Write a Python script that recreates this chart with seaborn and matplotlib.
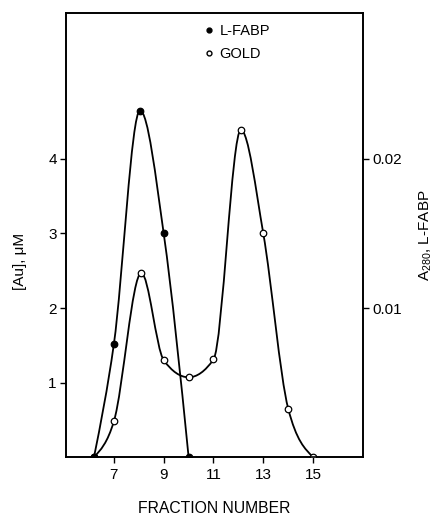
import numpy as np
import pandas as pd
import matplotlib
matplotlib.use("Agg")
import matplotlib.pyplot as plt
import seaborn as sns
from matplotlib.path import Path
from matplotlib.patches import PathPatch
from matplotlib.lines import Line2D

# gold, left axis ([Au], uM)
fraction_gold = [6.2, 7, 8.1, 9, 10, 11, 12.1, 13, 14, 15]
gold_uM = [0, 0.48, 2.47, 1.30, 1.07, 1.31, 4.39, 3.0, 0.65, 0]

# L-FABP, right axis (A280)
fraction_fabp = [6.2, 7, 8.05, 9, 10]
fabp_a280 = [0, 0.0076, 0.02325, 0.015, 0]

x_ticks = [7, 9, 11, 13, 15]
left_ticks = [1, 2, 3, 4]
right_ticks = [0.01, 0.02]


def smooth_path(x, y):
    # monotone cubic curve through the points, as bezier segments
    x = np.asarray(x, float)
    y = np.asarray(y, float)
    h = np.diff(x)
    s = np.diff(y) / h
    m = np.zeros(len(x))
    for i in range(1, len(x) - 1):
        if s[i - 1] * s[i] > 0:
            p = (s[i - 1] * h[i] + s[i] * h[i - 1]) / (h[i - 1] + h[i])
            m[i] = 2 * np.sign(s[i]) * min(abs(s[i - 1]), abs(s[i]), 0.5 * abs(p))
    m[0] = (3 * s[0] - m[1]) / 2
    m[-1] = (3 * s[-1] - m[-2]) / 2
    verts = [(x[0], y[0])]
    codes = [Path.MOVETO]
    for i in range(len(x) - 1):
        d = h[i] / 3
        verts += [(x[i] + d, y[i] + m[i] * d), (x[i + 1] - d, y[i + 1] - m[i + 1] * d), (x[i + 1], y[i + 1])]
        codes += [Path.CURVE4] * 3
    return Path(verts, codes)


sns.set_style("ticks")
plt.rcParams["font.family"] = ["Liberation Sans", "DejaVu Sans"]
plt.rcParams["text.color"] = "black"
plt.rcParams["axes.labelcolor"] = "black"

fig = plt.figure(figsize=(4.42, 5.17), dpi=100)
ax = fig.add_axes([0.149, 0.116, 0.672, 0.859])
ax2 = ax.twinx()

df_gold = pd.DataFrame({"fraction": fraction_gold, "au": gold_uM})
df_fabp = pd.DataFrame({"fraction": fraction_fabp, "a280": fabp_a280})

ax.add_patch(PathPatch(smooth_path(fraction_gold, gold_uM), facecolor="none",
                       edgecolor="black", lw=1.3, transform=ax.transData))
sns.scatterplot(data=df_gold, x="fraction", y="au", ax=ax, marker="o", s=22,
                facecolor="white", edgecolor="black", linewidth=0.9, zorder=3)

ax2.add_patch(PathPatch(smooth_path(fraction_fabp, fabp_a280), facecolor="none",
                        edgecolor="black", lw=1.3, transform=ax2.transData))
sns.scatterplot(data=df_fabp, x="fraction", y="a280", ax=ax2, marker="o", s=22,
                color="black", edgecolor="black", linewidth=0.9, zorder=3)

ax.set_xlim(5.07, 17.0)
ax.set_ylim(0, 5.96)
ax2.set_ylim(0, 5.96 * 0.005)

ax.set_xticks(x_ticks)
ax.set_yticks(left_ticks)
ax2.set_yticks(right_ticks)
ax2.set_yticklabels(["0.01", "0.02"])

for a in (ax, ax2):
    a.tick_params(direction="out", length=4, width=1, labelsize=11, colors="black")
    for sp in a.spines.values():
        sp.set_linewidth(1.2)
        sp.set_color("black")
ax.tick_params(axis="y", pad=2.5)
ax2.tick_params(axis="y", pad=2.5)
ax.tick_params(axis="x", pad=4)

ax.set_xlabel("FRACTION NUMBER", fontsize=11.3, color="black")
ax.xaxis.set_label_coords(0.5, -0.10)
ax.set_ylabel("[Au], μM", fontsize=11, color="black")
ax.yaxis.set_label_coords(-0.131, 0.44)
ax2.set_ylabel(r"$\mathregular{A_{280}}$, L-FABP", fontsize=11, color="black")
ax2.yaxis.set_label_coords(1.185, 0.5)

handles = [
    Line2D([], [], marker="o", ls="none", color="black", markersize=3.5),
    Line2D([], [], marker="o", ls="none", markerfacecolor="white",
           markeredgecolor="black", markersize=3.5),
]
ax2.legend(handles, ["L-FABP", "GOLD"], loc="upper left", bbox_to_anchor=(0.468, 0.975),
           frameon=False, fontsize=10.5, handlelength=0.6, handletextpad=0.4,
           borderpad=0, borderaxespad=0, labelspacing=0.6, labelcolor="black")

fig.savefig("out.png", dpi=100)
